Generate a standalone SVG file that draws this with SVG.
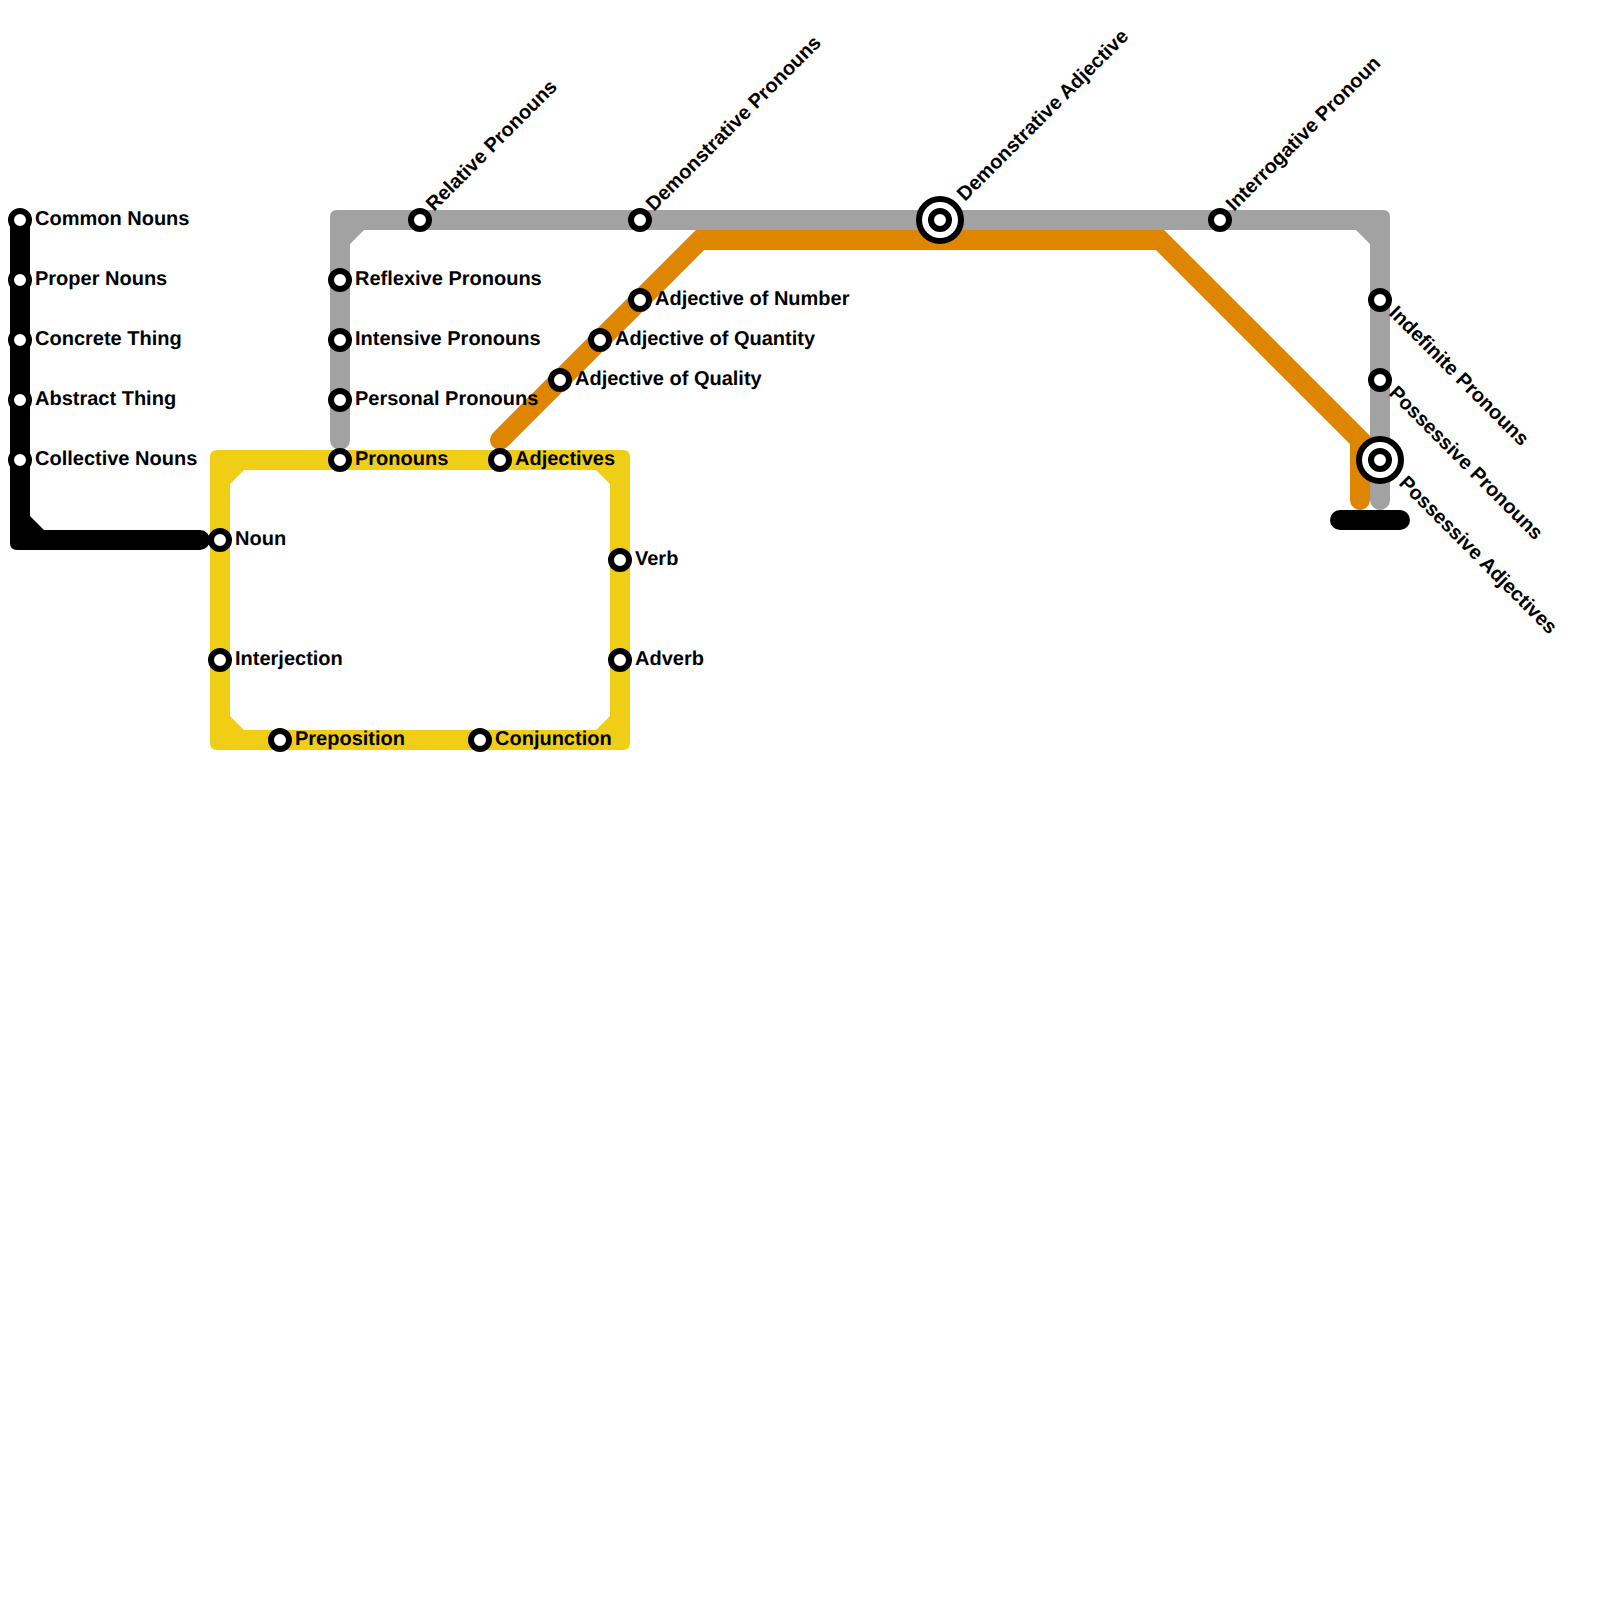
<svg xmlns="http://www.w3.org/2000/svg" width="1600" height="1600" viewBox="0 0 1600 1600">
<style>
text{font-family:"Liberation Sans",Arial,sans-serif;font-weight:700;font-size:20px;fill:#000;text-rendering:geometricPrecision}
.st{fill:#fff;stroke:#000;stroke-width:6}
.line{fill:none;stroke-width:20;stroke-linecap:round;stroke-linejoin:miter}
</style>
<rect width="1600" height="1600" fill="#fff"/>
<g id="connectors">
<path id="line-yellow" fill="#f0ce15" fill-rule="evenodd" d="M217 450H623Q630 450 630 457V743Q630 750 623 750H217Q210 750 210 743V457Q210 450 217 450ZM244 470L230 484V716L244 730H596L610 716V484L596 470Z"/>
<path id="line-gray" fill="#a2a2a2" d="M337 210H1383Q1390 210 1390 217V500A10 10 0 0 1 1370 500V244L1356 230H364L350 244V440A10 10 0 0 1 330 440V217Q330 210 337 210Z"/>
<path id="line-orange" class="line" stroke="#df8600" d="M500 440L700 240H1160L1360 440V500"/>
<path id="line-black" fill="#000" d="M10 220A10 10 0 0 1 30 220V516L44 530H200A10 10 0 0 1 200 550H17Q10 550 10 543Z"/>
<path id="line-black-end" class="line" stroke="#000" d="M1340 520H1400"/>
</g>
<g id="n-common"><circle class="st" cx="20" cy="220" r="9"/><text x="35" y="225">Common Nouns</text></g>
<g id="n-proper"><circle class="st" cx="20" cy="280" r="9"/><text x="35" y="285">Proper Nouns</text></g>
<g id="n-concrete"><circle class="st" cx="20" cy="340" r="9"/><text x="35" y="345">Concrete Thing</text></g>
<g id="n-abstract"><circle class="st" cx="20" cy="400" r="9"/><text x="35" y="405">Abstract Thing</text></g>
<g id="n-collective"><circle class="st" cx="20" cy="460" r="9"/><text x="35" y="465">Collective Nouns</text></g>
<g id="n-noun"><circle class="st" cx="220" cy="540" r="9"/><text x="235" y="545">Noun</text></g>
<g id="n-interjection"><circle class="st" cx="220" cy="660" r="9"/><text x="235" y="665">Interjection</text></g>
<g id="n-preposition"><circle class="st" cx="280" cy="740" r="9"/><text x="295" y="745">Preposition</text></g>
<g id="n-conjunction"><circle class="st" cx="480" cy="740" r="9"/><text x="495" y="745">Conjunction</text></g>
<g id="n-verb"><circle class="st" cx="620" cy="560" r="9"/><text x="635" y="565">Verb</text></g>
<g id="n-adverb"><circle class="st" cx="620" cy="660" r="9"/><text x="635" y="665">Adverb</text></g>
<g id="n-pronouns"><circle class="st" cx="340" cy="460" r="9"/><text x="355" y="465">Pronouns</text></g>
<g id="n-adjectives"><circle class="st" cx="500" cy="460" r="9"/><text x="515" y="465">Adjectives</text></g>
<g id="n-reflexive"><circle class="st" cx="340" cy="280" r="9"/><text x="355" y="285">Reflexive Pronouns</text></g>
<g id="n-intensive"><circle class="st" cx="340" cy="340" r="9"/><text x="355" y="345">Intensive Pronouns</text></g>
<g id="n-personal"><circle class="st" cx="340" cy="400" r="9"/><text x="355" y="405">Personal Pronouns</text></g>
<g id="n-quality"><circle class="st" cx="560" cy="380" r="9"/><text x="575" y="385">Adjective of Quality</text></g>
<g id="n-quantity"><circle class="st" cx="600" cy="340" r="9"/><text x="615" y="345">Adjective of Quantity</text></g>
<g id="n-number"><circle class="st" cx="640" cy="300" r="9"/><text x="655" y="305">Adjective of Number</text></g>
<g id="n-relative"><circle class="st" cx="420" cy="220" r="9"/><text transform="translate(434 212) rotate(-45)">Relative Pronouns</text></g>
<g id="n-demo-pron"><circle class="st" cx="640" cy="220" r="9"/><text transform="translate(654 212) rotate(-45)">Demonstrative Pronouns</text></g>
<g id="n-demo-adj"><circle class="st" cx="940" cy="220" r="21"/><circle class="st" cx="940" cy="220" r="9"/><text transform="translate(965 202) rotate(-45)">Demonstrative Adjective</text></g>
<g id="n-interrogative"><circle class="st" cx="1220" cy="220" r="9"/><text transform="translate(1234 212) rotate(-45)">Interrogative Pronoun</text></g>
<g id="n-indefinite"><circle class="st" cx="1380" cy="300" r="9"/><text transform="translate(1388 314) rotate(45)">Indefinite Pronouns</text></g>
<g id="n-poss-pron"><circle class="st" cx="1380" cy="380" r="9"/><text transform="translate(1388 394) rotate(45)">Possessive Pronouns</text></g>
<g id="n-poss-adj"><circle class="st" cx="1380" cy="460" r="21"/><circle class="st" cx="1380" cy="460" r="9"/><text transform="translate(1398 484) rotate(45)">Possessive Adjectives</text></g>
</svg>
